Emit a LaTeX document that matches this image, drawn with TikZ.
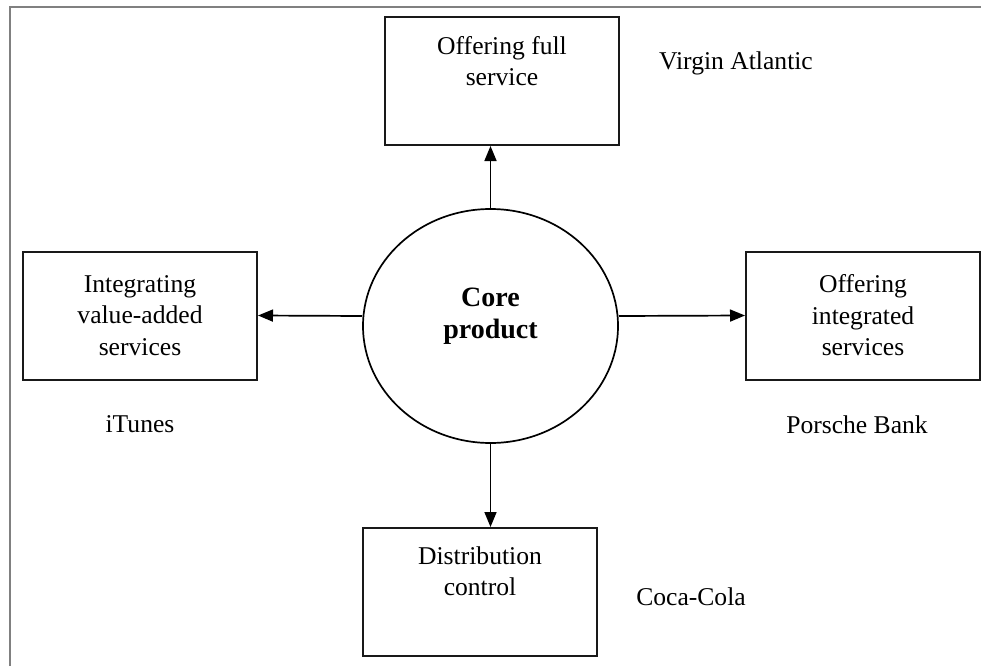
\documentclass[tikz,border=0pt]{standalone}
\usepackage{fontspec}
\setmainfont{Liberation Serif}
\usetikzlibrary{shapes.geometric,arrows.meta}
\begin{document}
\begin{tikzpicture}[x=1pt,y=-1pt,
  box/.style={draw=black!90,line width=2pt,rectangle,minimum width=234pt,minimum height=128pt,inner sep=0pt,font=\fontsize{25.6}{31.5}\selectfont,align=center},
  lbl/.style={font=\fontsize{25.6}{31.5}\selectfont,inner sep=0pt},
  arr/.style={line width=1.7pt,-{Triangle[length=15pt,width=12pt]}}]
\useasboundingbox (0,0) rectangle (981,666);
\draw[gray,line width=1.4pt] (10,666) -- (10,7) -- (981,7);
\node[draw,line width=1.7pt,ellipse,minimum width=255pt,minimum height=234pt,inner sep=0pt,
  label={[inner sep=0pt,align=center,font=\bfseries\fontsize{28}{32}\selectfont,yshift=10pt]center:Core\\product}] (core) at (490.5,326) {};
\node[box,label={[lbl,align=center,yshift=20pt]center:Offering full\\service}] (tbox) at (502,81) {};
\node[box] (lbox) at (140,315.5) {Integrating\\value-added\\services};
\node[box] (rbox) at (863,315.5) {Offering\\integrated\\services};
\node[box,label={[lbl,align=center,yshift=21pt]center:Distribution\\control}] (bbox) at (480,592) {};
\node[lbl] (virgin) at (736,63) {Virgin Atlantic};
\node[lbl] (itunes) at (140,424) {iTunes};
\node[lbl] (porsche) at (857,425) {Porsche Bank};
\node[lbl] (coca) at (691,597) {Coca-Cola};
\draw[arr] (core.north) -- (core.north |- tbox.south);
\draw[arr] (core.south) -- (core.south |- bbox.north);
\draw[arr] ([yshift=10pt]core.west) -- (lbox.east);
\draw[arr] ([yshift=10pt]core.east) -- (rbox.west);
\end{tikzpicture}
\end{document}
